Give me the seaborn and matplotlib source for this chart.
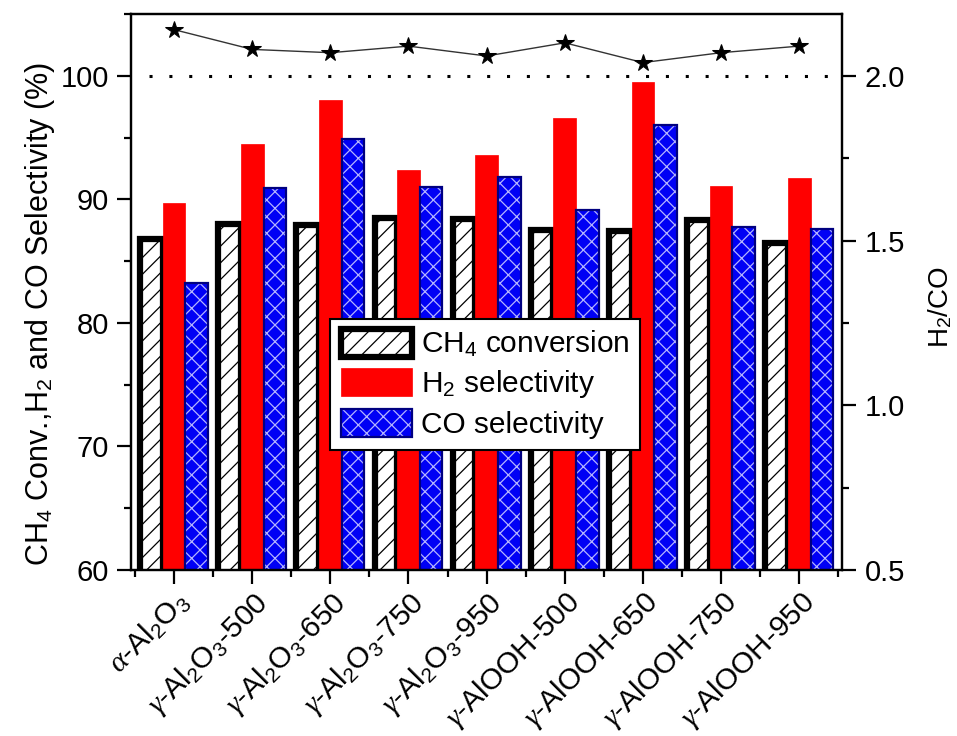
import numpy as np
import pandas as pd
import matplotlib
matplotlib.use("Agg")
import matplotlib.pyplot as plt
import matplotlib.patches as mpatches
from matplotlib.legend_handler import HandlerTuple
from matplotlib.ticker import MultipleLocator, FixedLocator, FormatStrFormatter
import seaborn as sns

# --- data -------------------------------------------------------------
catalysts = [
    r"$\mathit{\alpha}$-Al$_2$O$_3$",
    r"$\mathit{\gamma}$-Al$_2$O$_3$-500",
    r"$\mathit{\gamma}$-Al$_2$O$_3$-650",
    r"$\mathit{\gamma}$-Al$_2$O$_3$-750",
    r"$\mathit{\gamma}$-Al$_2$O$_3$-950",
    r"$\mathit{\gamma}$-AlOOH-500",
    r"$\mathit{\gamma}$-AlOOH-650",
    r"$\mathit{\gamma}$-AlOOH-750",
    r"$\mathit{\gamma}$-AlOOH-950",
]
ch4_conversion = [86.8, 88.0, 87.9, 88.5, 88.4, 87.5, 87.4, 88.3, 86.5]
h2_selectivity = [89.7, 94.5, 98.0, 92.4, 93.6, 96.6, 99.5, 91.1, 91.7]
co_selectivity = [83.2, 90.9, 94.9, 91.0, 91.8, 89.1, 96.0, 87.8, 87.6]
h2_co_ratio = [2.14, 2.08, 2.07, 2.09, 2.06, 2.10, 2.04, 2.07, 2.09]

series_names = [r"CH$_4$ conversion", r"H$_2$ selectivity", "CO selectivity"]

# --- style ------------------------------------------------------------
sns.set_style("ticks")
plt.rcParams["font.family"] = ["Liberation Sans", "DejaVu Sans"]
plt.rcParams["mathtext.fontset"] = "custom"
plt.rcParams["mathtext.rm"] = "Liberation Sans"
plt.rcParams["mathtext.it"] = "Liberation Serif:italic"
plt.rcParams["mathtext.bf"] = "Liberation Sans:bold"
plt.rcParams["hatch.linewidth"] = 0.9
plt.rcParams["axes.linewidth"] = 1.6
for key in ["text.color", "axes.labelcolor", "axes.edgecolor",
            "xtick.color", "ytick.color"]:
    plt.rcParams[key] = "black"

RED = "#ff0000"
BLUE = "#0000f5"
NAVY = "#000080"
CROSS = "#b4b4ff"

df = pd.DataFrame({
    "catalyst": catalysts * 3,
    "value": ch4_conversion + h2_selectivity + co_selectivity,
    "series": [series_names[0]] * 9 + [series_names[1]] * 9 + [series_names[2]] * 9,
})

fig, ax = plt.subplots(figsize=(9.57, 7.36), dpi=100)
fig.subplots_adjust(left=0.137, right=0.88, bottom=0.2255, top=0.981)

sns.barplot(data=df, x="catalyst", y="value", hue="series", hue_order=series_names,
            palette=["white", RED, BLUE], saturation=1, width=0.87,
            legend=False, ax=ax, zorder=2)

ch4_bars, h2_bars, co_bars = ax.containers[0], ax.containers[1], ax.containers[2]
for p in ch4_bars:
    p.set_facecolor("white")
    p.set_edgecolor("black")
    p.set_linewidth(4.5)
    p.set_hatch("//")
for p in h2_bars:
    p.set_facecolor(RED)
    p.set_edgecolor(RED)
    p.set_linewidth(0.5)
for p in co_bars:
    p.set_facecolor(BLUE)
    p.set_edgecolor(CROSS)
    p.set_linewidth(0)
    p.set_hatch("xx")
    # navy outline drawn over the hatched fill
    ax.add_patch(mpatches.Rectangle(p.get_xy(), p.get_width(), p.get_height(),
                                    fill=False, edgecolor=NAVY, linewidth=1.6,
                                    zorder=2.1))

ax.set_ylim(60, 105)
ax.set_xlim(-0.55, 8.55)
ax.yaxis.set_major_locator(FixedLocator([60, 70, 80, 90, 100]))
ax.yaxis.set_minor_locator(MultipleLocator(5))
ax.xaxis.set_minor_locator(FixedLocator(np.arange(-0.5, 9, 1.0)))
ax.tick_params(axis="both", which="major", length=10, width=1.6, labelsize=21,
               direction="out")
ax.tick_params(axis="both", which="minor", length=5, width=1.6, direction="out")
ax.tick_params(axis="y", pad=6)
ax.tick_params(axis="x", pad=2, labelsize=21.5)
plt.setp(ax.get_xticklabels(), rotation=45, ha="right", rotation_mode="anchor")
ax.set_xlabel("")
ax.set_ylabel(r"CH$_4$ Conv.,H$_2$ and CO Selectivity (%)", fontsize=22)
ax.yaxis.set_label_coords(-0.104, 0.46)

# H2/CO ratio on the secondary axis
ax2 = ax.twinx()
positions = np.arange(len(catalysts))
sns.lineplot(x=positions, y=h2_co_ratio, ax=ax2, color="#333333", linewidth=1.0,
             marker="*", markersize=13, markerfacecolor="black",
             markeredgecolor="black")
ax2.axhline(2.0, xmin=0.025, xmax=1.0, color="black", linewidth=2.2,
            linestyle=(0, (1, 5.5)))
ax2.set_ylim(0.5, 2.1875)
ax2.yaxis.set_major_locator(FixedLocator([0.5, 1.0, 1.5, 2.0]))
ax2.yaxis.set_minor_locator(MultipleLocator(0.25))
ax2.yaxis.set_major_formatter(FormatStrFormatter("%.1f"))
ax2.tick_params(axis="y", which="major", length=10, width=1.6, labelsize=21, pad=6)
ax2.tick_params(axis="y", which="minor", length=5, width=1.6)
ax2.set_ylabel(r"H$_2$/CO", fontsize=20)
ax2.yaxis.set_label_coords(1.118, 0.473)
for sp in ax2.spines.values():
    sp.set_linewidth(1.6)

# legend
h_ch4 = mpatches.Patch(facecolor="white", edgecolor="black", linewidth=4.5, hatch="//")
h_h2 = mpatches.Patch(facecolor=RED, edgecolor=RED, linewidth=0.5)
h_co_fill = mpatches.Patch(facecolor=BLUE, edgecolor=CROSS, linewidth=0, hatch="xx")
h_co_edge = mpatches.Patch(fill=False, edgecolor=NAVY, linewidth=1.6)
leg = ax2.legend([h_ch4, h_h2, (h_co_fill, h_co_edge)], series_names,
                 handler_map={tuple: HandlerTuple(ndivide=1)},
                 loc="upper left", bbox_to_anchor=(0.28, 0.452),
                 fontsize=21.5, frameon=True, fancybox=False, framealpha=1,
                 edgecolor="black", handlelength=2.4, handleheight=1.05,
                 handletextpad=0.3, labelspacing=0.3, borderpad=0.35,
                 borderaxespad=0)
leg.get_frame().set_linewidth(1.5)

fig.savefig("out.png", dpi=100)
